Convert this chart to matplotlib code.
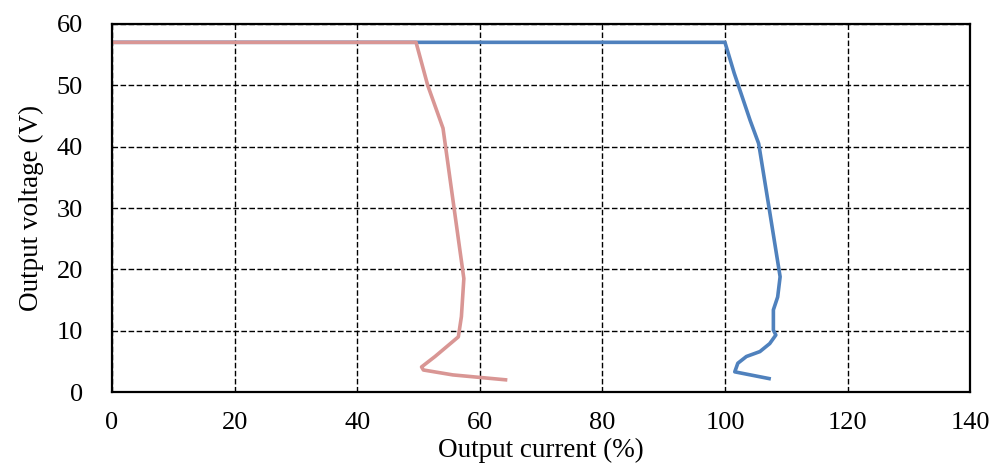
import matplotlib.pyplot as plt

plt.rcParams['font.family'] = ['Liberation Serif', 'DejaVu Serif']

# current (%) vs voltage (V) for the two limit settings
i_100 = [0, 100, 101.5, 104.1, 105.5, 107.2, 109.0, 108.6, 107.9, 107.9, 108.3,
         107.3, 105.7, 103.5, 102.1, 101.6, 107.2]
v_100 = [57, 57, 52, 44.3, 40.5, 30, 18.8, 15.5, 13.4, 10.1, 9.3,
         7.9, 6.6, 5.8, 4.7, 3.3, 2.2]

i_50 = [0, 49.6, 51.5, 54.0, 55.8, 57.4, 57.0, 56.5, 52.7, 50.5, 50.8, 55.6, 64.2]
v_50 = [57, 57, 50, 43.0, 30, 18.5, 12.3, 9.0, 5.8, 4.1, 3.6, 2.8, 2.0]

fig = plt.figure(figsize=(9.95, 4.69), dpi=100)
ax = fig.add_axes([0.1126, 0.164, 0.8624, 0.785])

ax.plot(i_100, v_100, color='#4f81bd', lw=2.6, solid_joinstyle='round')
ax.plot(i_50, v_50, color='#d99694', lw=2.6, solid_joinstyle='round')

ax.set_xlim(0, 140)
ax.set_ylim(0, 60)
ax.set_xticks(range(0, 141, 20))
ax.set_yticks(range(0, 61, 10))
ax.grid(True, color='black', linestyle=(0, (4, 1.8)), linewidth=1.0)
ax.tick_params(length=0, labelsize=19)
ax.tick_params(axis='x', pad=14)
ax.tick_params(axis='y', pad=21)
for s in ax.spines.values():
    s.set_linewidth(1.6)

ax.set_xlabel('Output current (%)', fontsize=19.5, labelpad=3)
ax.set_ylabel('Output voltage (V)', fontsize=19.5, labelpad=9)

fig.savefig('out.png', dpi=100)
